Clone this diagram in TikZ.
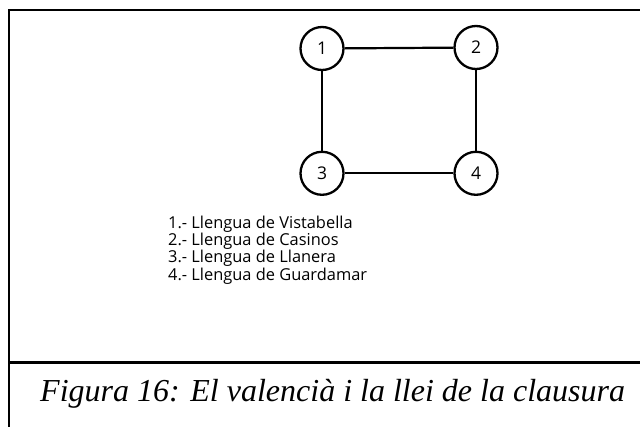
\documentclass[tikz,border=0pt]{standalone}
\usepackage{fontspec}
\setmainfont{Liberation Serif}
\newfontfamily\labfont{Open Sans}
\begin{document}
\begin{tikzpicture}[x=1pt,y=-1pt,
  frame/.style={line width=2.6pt,line cap=rect},
  vert/.style={circle,draw,line width=2.3pt,minimum size=43pt,inner sep=0pt,font=\labfont\fontsize{17.5}{17.5}\selectfont},
  edge/.style={line width=2.2pt},
  leg/.style={anchor=base west,inner sep=0pt,font=\labfont\fontsize{16.4}{17}\selectfont},
  captext/.style={anchor=base west,inner sep=0pt,font=\itshape\fontsize{32}{34}\selectfont}]
\useasboundingbox (0,0) rectangle (640,426);
\coordinate (tl) at (9,10);
\coordinate (tr) at (641,10);
\coordinate (bl) at (9,427);
\coordinate (ml) at (9,362.7);
\coordinate (mr) at (641,362.7);
\draw[frame] (tr) -- (tl) -- (bl);
\draw[frame] (ml) -- (mr);
\node[vert] (n1) at (322,48.5) {1};
\node[vert] (n2) at (476,47.5) {2};
\node[vert] (n3) at (322,173.3) {3};
\node[vert] (n4) at (476,173.3) {4};
\draw[edge] (n1) -- (n2);
\draw[edge] (n1) -- (n3);
\draw[edge] (n2) -- (n4);
\draw[edge] (n3) -- (n4);
\node[leg] (l1) at (168,228) {1.- Llengua de Vistabella};
\node[leg] (l2) at (168,245.4) {2.- Llengua de Casinos};
\node[leg] (l3) at (168,262.8) {3.- Llengua de Llanera};
\node[leg] (l4) at (168,280.2) {4.- Llengua de Guardamar};
\node[captext] (c) at (40,401.7) {Figura 16: El valencià i la llei de la clausura};
\end{tikzpicture}
\end{document}
